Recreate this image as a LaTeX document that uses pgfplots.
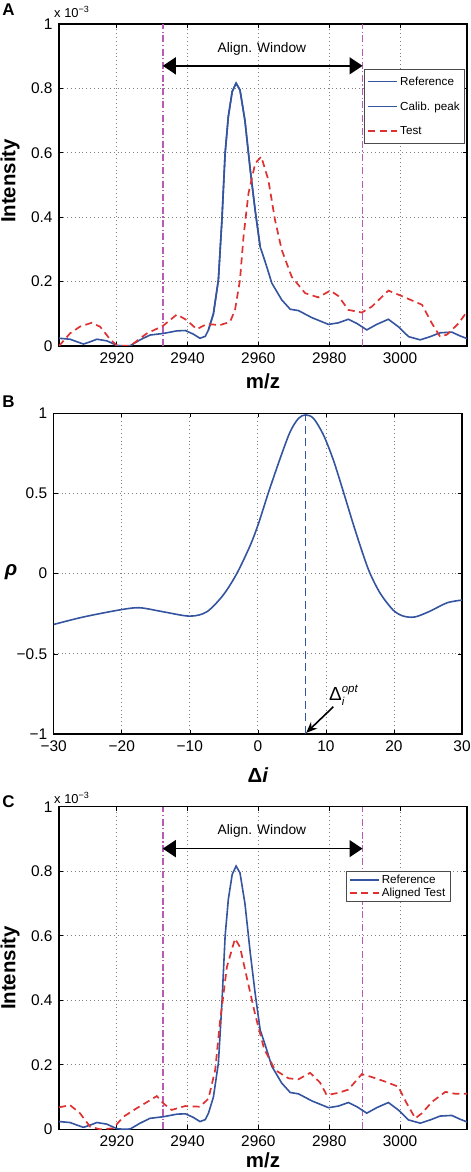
\documentclass[border=0pt]{standalone}
\usepackage{fontspec}
\setmainfont{Liberation Sans}
\usepackage{pgfplots}
\pgfplotsset{compat=1.18}
\usetikzlibrary{arrows.meta}
\definecolor{mblue}{RGB}{52,84,160}
\definecolor{mred}{RGB}{222,50,50}
\definecolor{mmag}{RGB}{185,90,180}
\newcommand\tickfont{\fontsize{15.5}{18}\selectfont}
\newcommand\labfont{\fontsize{20.5}{24}\selectfont\bfseries}
\pgfplotsset{
  mat/.style={scale only axis, axis line style={line width=1.4bp},
    tick align=inside, major tick length=4bp,
    tick style={black, line width=0.6bp},
    grid=major, major grid style={black!50, line width=0.8bp, dash pattern=on 0.9bp off 3bp},
    ticklabel style={font=\tickfont},
    xticklabel style={yshift=-3bp}, yticklabel style={xshift=-3bp},
    legend cell align=left,
    legend image code/.code={\draw[##1] (0bp,0bp) -- (29bp,0bp);},
  },
  refl/.style={mblue, line width=1.6bp},
  testl/.style={mred, line width=1.7bp, dash pattern=on 7bp off 4.5bp},
  magl/.style={mmag, line width=1.5bp, dash pattern=on 7bp off 2.5bp on 1.2bp off 2.5bp},
}
\pgfplotstableread{
x y
2903.7 0.024
2906.8 0.021
2908.8 0.013
2910.6 0.006
2912.5 0.013
2914.4 0.021
2917.2 0.016
2920.0 0.002
2922.0 0.000
2923.8 0.001
2926.6 0.019
2929.4 0.034
2933.2 0.039
2937.0 0.047
2939.4 0.048
2941.6 0.037
2943.5 0.024
2945.0 0.030
2945.9 0.050
2947.3 0.100
2948.7 0.205
2949.7 0.391
2950.6 0.598
2951.5 0.712
2952.6 0.790
2953.7 0.816
2954.8 0.795
2956.2 0.700
2957.7 0.547
2959.1 0.420
2960.5 0.308
2961.9 0.262
2963.8 0.195
2966.6 0.143
2969.0 0.114
2971.3 0.110
2975.1 0.088
2979.8 0.067
2982.6 0.072
2985.4 0.083
2987.8 0.070
2990.6 0.050
2993.4 0.067
2996.7 0.083
2999.5 0.060
3002.4 0.029
3005.7 0.019
3008.5 0.029
3011.3 0.041
3014.6 0.043
3017.0 0.031
3018.9 0.023
}\refdata
\pgfplotstableread{
x y
2945.9 0.050
2947.3 0.100
2948.7 0.205
2949.7 0.391
2950.6 0.598
2951.5 0.712
2952.6 0.790
2953.7 0.816
2954.8 0.795
2956.2 0.700
2957.7 0.547
2959.1 0.420
2960.5 0.308
}\calibdata
\pgfplotstableread{
x y
2903.7 0.000
2906.8 0.039
2909.6 0.060
2912.9 0.072
2915.3 0.060
2918.1 0.021
2920.0 0.002
2923.8 0.000
2925.6 0.015
2928.5 0.039
2933.0 0.062
2937.0 0.098
2939.8 0.080
2942.6 0.052
2945.4 0.068
2949.2 0.065
2952.0 0.075
2953.4 0.112
2954.8 0.205
2955.8 0.340
2957.2 0.474
2959.1 0.567
2960.8 0.588
2962.8 0.516
2964.7 0.391
2966.6 0.298
2969.4 0.215
2973.2 0.164
2976.9 0.151
2980.3 0.172
2982.6 0.155
2985.4 0.112
2989.2 0.104
2992.0 0.122
2996.7 0.172
3000.5 0.155
3006.2 0.128
3009.0 0.070
3011.3 0.029
3013.2 0.035
3016.5 0.070
3018.9 0.107
}\testdata
\pgfplotstableread{
x y
2903.7 0.068
2906.8 0.075
2909.6 0.050
2912.5 0.008
2915.3 0.000
2919.0 0.003
2921.9 0.039
2925.6 0.065
2928.5 0.084
2931.3 0.103
2933.2 0.080
2935.5 0.060
2939.3 0.072
2943.5 0.070
2945.9 0.095
2947.8 0.184
2949.2 0.338
2949.7 0.380
2951.1 0.503
2953.4 0.591
2954.8 0.565
2956.7 0.472
2959.1 0.355
2961.6 0.250
2964.7 0.184
2968.5 0.158
2971.3 0.155
2974.6 0.175
2977.4 0.145
2979.3 0.106
2982.6 0.113
2985.4 0.123
2989.2 0.171
2992.0 0.162
2995.8 0.148
2999.5 0.132
3001.9 0.080
3004.3 0.034
3006.2 0.050
3009.0 0.085
3012.8 0.116
3015.6 0.110
3018.9 0.110
}\aligndata
\pgfplotstableread{
x y
-30 -0.317
-25.6 -0.270
-20 -0.224
-17.3 -0.213
-13.9 -0.238
-10 -0.265
-7.5 -0.238
-5.1 -0.134
-3.1 0.000
-1.1 0.178
0.1 0.313
1.56 0.506
3.28 0.719
4.75 0.885
5.97 0.968
7.0 0.990
8.18 0.968
9.65 0.864
11.1 0.708
12.6 0.506
14.06 0.303
15.5 0.115
16.5 0.000
18 -0.124
19.9 -0.228
21.4 -0.265
23.1 -0.270
25.3 -0.234
27.8 -0.182
30 -0.165
}\rhodata
\begin{document}
\begin{tikzpicture}[x=1bp,y=1bp]
\path[use as bounding box] (0,0) rectangle (471,1172);
% ---------------- Panel A
\begin{axis}[mat, at={(59bp,826bp)}, anchor=south west, width=408bp, height=322bp,
  xmin=2903.7, xmax=3018.9, ymin=0, ymax=1,
  xtick={2920,2940,2960,2980,3000}, xticklabels={2920,2940,2960,2980,3000},
  ytick={0,0.2,0.4,0.6,0.8,1}, yticklabels={0,0.2,0.4,0.6,0.8,1},
  legend style={at={(rel axis cs:0.748,0.859)}, anchor=north west,
    font=\fontsize{11.7}{14}\selectfont, draw=black!70, line width=0.7bp,
    inner xsep=3bp, inner ysep=5bp, row sep=11bp}]
\addplot[magl, forget plot] coordinates {(2933,0) (2933,1)};
\addplot[magl, forget plot] coordinates {(2989.4,0) (2989.4,1)};
\addplot[refl] table {\refdata};
\addlegendentry{Reference}
\addplot[refl] table {\calibdata};
\addlegendentry{Calib. peak}
\addplot[testl] table {\testdata};
\addlegendentry{Test}
\draw[line width=1.5bp, {Triangle[length=13bp,width=17bp]}-{Triangle[length=13bp,width=17bp]}] (axis cs:2933,0.87) -- (axis cs:2989.4,0.87);
\node[font=\fontsize{13.8}{16}\selectfont] at (axis cs:2961,0.922) {Align. Window};
\end{axis}
\node[font=\labfont, rotate=90] at (10,991) {Intensity};
\node[font=\labfont] at (263,791) {m/z};
\node[font=\fontsize{17}{20}\selectfont\bfseries] at (8.5,1162.8) {A};
\node[anchor=west, inner sep=0, font=\fontsize{13}{15}\selectfont] at (54,1160) {x 10\raisebox{5bp}{\fontsize{9}{10}\selectfont −3}};
% ---------------- Panel B
\begin{axis}[mat, at={(53.7bp,438bp)}, anchor=south west, width=408.3bp, height=320.7bp,
  xmin=-30, xmax=30, ymin=-1, ymax=1,
  xtick={-30,-20,-10,0,10,20,30}, xticklabels={−30,−20,−10,0,10,20,30},
  ytick={-1,-0.5,0,0.5,1}, yticklabels={−1,−0.5,0,0.5,1}]
\addplot[refl, smooth, tension=0.5] table {\rhodata};
\addplot[mblue, line width=1.6bp, dash pattern=on 8bp off 4.5bp] coordinates {(7,-1) (7,0.99)};
\draw[-{Stealth[length=11bp,width=9bp]}, line width=1.6bp] (axis cs:11.1,-0.83) -- (axis cs:7.1,-0.993);
\node[font=\fontsize{19}{20}\selectfont] at (axis cs:11.6,-0.758) {Δ\makebox[0pt][l]{\raisebox{8bp}{\fontsize{11.5}{12}\selectfont\itshape opt}}\raisebox{-5bp}{\fontsize{11.5}{12}\selectfont\itshape i}\hspace{12bp}};
\end{axis}
\node[font=\fontsize{20.5}{24}\selectfont\bfseries\itshape] at (11,600) {ρ};
\node[font=\labfont] at (258,397) {Δ\textit{i}};
\node[font=\fontsize{17}{20}\selectfont\bfseries] at (8.5,770) {B};
% ---------------- Panel C
\begin{axis}[mat, at={(59bp,42.7bp)}, anchor=south west, width=408bp, height=322.6bp,
  xmin=2903.7, xmax=3018.9, ymin=0, ymax=1,
  xtick={2920,2940,2960,2980,3000}, xticklabels={2920,2940,2960,2980,3000},
  ytick={0,0.2,0.4,0.6,0.8,1}, yticklabels={0,0.2,0.4,0.6,0.8,1},
  legend style={at={(rel axis cs:0.7027,0.80)}, anchor=north west,
    font=\fontsize{11.7}{14}\selectfont, draw=black!70, line width=0.7bp,
    inner xsep=3bp, inner ysep=1.5bp, row sep=-1bp}]
\addplot[magl, forget plot] coordinates {(2933,0) (2933,1)};
\addplot[magl, forget plot] coordinates {(2989.4,0) (2989.4,1)};
\addplot[refl] table {\refdata};
\addlegendentry{Reference}
\addplot[testl] table {\aligndata};
\addlegendentry{Aligned Test}
\draw[line width=1.5bp, {Triangle[length=13bp,width=17bp]}-{Triangle[length=13bp,width=17bp]}] (axis cs:2933,0.87) -- (axis cs:2989.4,0.87);
\node[font=\fontsize{13.8}{16}\selectfont] at (axis cs:2961,0.925) {Align. Window};
\end{axis}
\node[font=\labfont, rotate=90] at (10,204) {Intensity};
\node[font=\labfont] at (263,12) {m/z};
\node[font=\fontsize{17}{20}\selectfont\bfseries] at (8.5,370.5) {C};
\node[anchor=west, inner sep=0, font=\fontsize{13}{15}\selectfont] at (54,374) {x 10\raisebox{5bp}{\fontsize{9}{10}\selectfont −3}};
\end{tikzpicture}
\end{document}
